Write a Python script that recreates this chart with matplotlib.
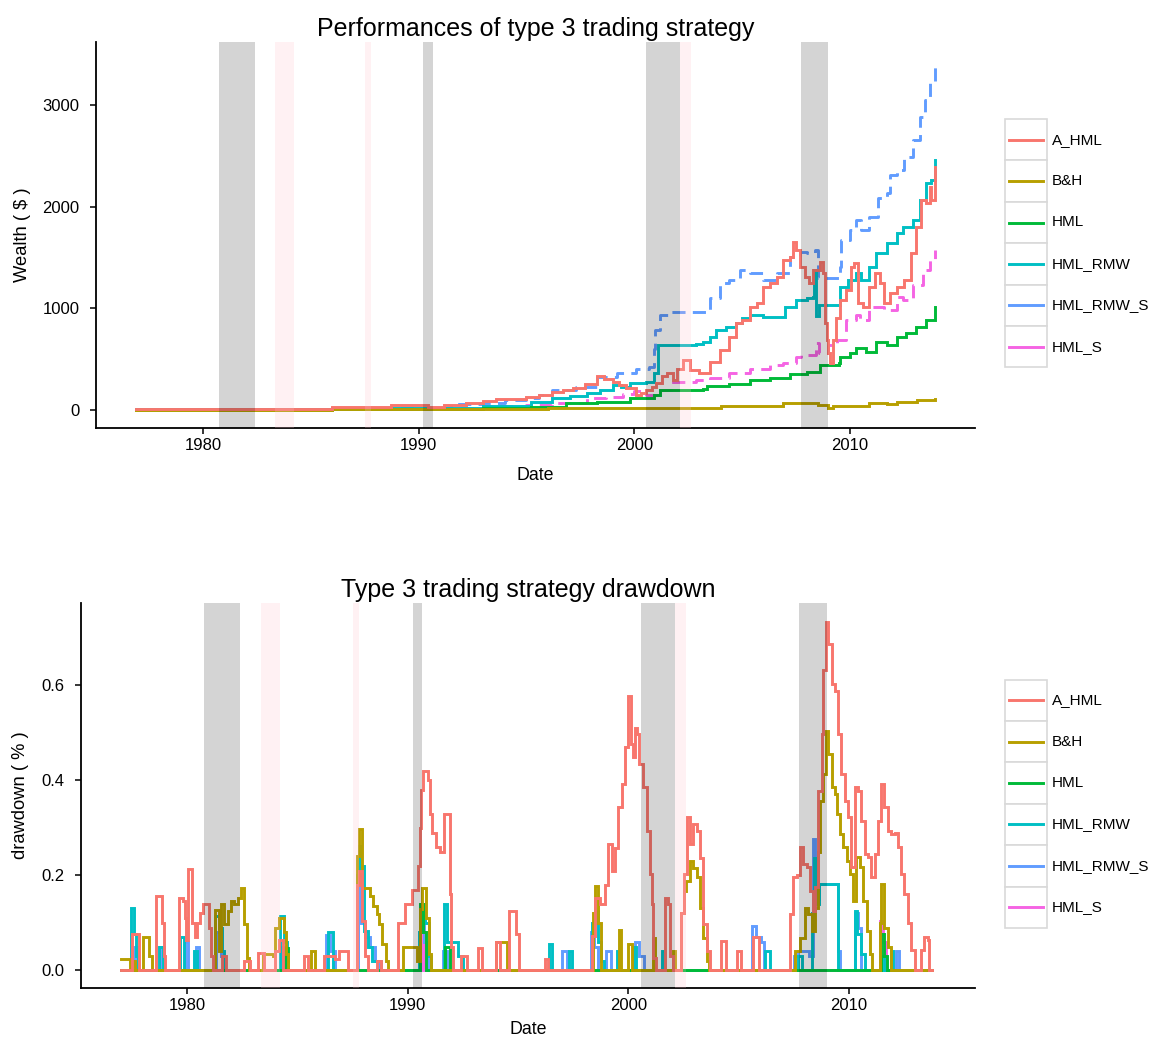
import matplotlib
matplotlib.use("Agg")
import matplotlib.pyplot as plt
from matplotlib.patches import Rectangle
from matplotlib.lines import Line2D

plt.rcParams['font.family'] = ['Liberation Sans', 'DejaVu Sans']

# ---------------------------------------------------------------- data
series_names = ["A_HML", "B&H", "HML", "HML_RMW", "HML_RMW_S", "HML_S"]
series_colors = ["#F8766D", "#B79F00", "#00BA38", "#00BFC4", "#619CFF", "#F564E3"]
series_dashed = [False, False, False, False, True, True]

# wealth ($) as (year, value) pairs
wealth_a_hml = [
    (1976.9, 8), (1986.0, 28), (1988.7, 48), (1990.45, 30), (1991.2, 45), (1992.2, 66),
    (1993.0, 92), (1993.6, 108), (1994.4, 112), (1995.0, 131), (1995.6, 150), (1996.2, 180),
    (1996.7, 200), (1997.15, 213), (1997.7, 260), (1998.25, 334), (1998.6, 300), (1999.0, 279),
    (1999.3, 250), (1999.6, 216), (2000.1, 147), (2000.3, 170), (2000.55, 197), (2000.8, 230),
    (2001.0, 265), (2001.3, 330), (2001.5, 363), (2001.8, 295), (2002.0, 400), (2002.25, 492),
    (2002.6, 393), (2003.0, 363), (2003.5, 475), (2003.97, 590), (2004.4, 720), (2004.7, 855),
    (2005.0, 885), (2005.35, 1016), (2005.67, 1052), (2005.96, 1213), (2006.3, 1249),
    (2006.6, 1311), (2006.9, 1475), (2007.2, 1508), (2007.37, 1655), (2007.5, 1573),
    (2007.7, 1409), (2007.9, 1311), (2008.1, 1245), (2008.3, 1377), (2008.6, 1458),
    (2008.76, 1344), (2008.83, 855), (2008.92, 688), (2009.0, 560), (2009.07, 459),
    (2009.2, 688), (2009.35, 900), (2009.53, 1082), (2009.84, 1180), (2010.07, 1409),
    (2010.2, 1442), (2010.38, 1049), (2010.6, 1016), (2010.9, 1213), (2011.15, 1344),
    (2011.4, 1245), (2011.6, 1049), (2011.85, 1147), (2012.16, 1213), (2012.5, 1278),
    (2012.85, 1540), (2013.08, 1802), (2013.3, 2065), (2013.55, 2032), (2013.7, 2196),
    (2013.78, 2065), (2013.93, 2393),
]
wealth_bh = [
    (1976.9, 3), (1986.0, 5), (1992.0, 10), (1996.0, 18), (2000.0, 23), (2004.0, 39),
    (2006.9, 66), (2008.0, 66), (2008.5, 50), (2009.0, 23), (2009.2, 43), (2010.9, 66),
    (2011.7, 56), (2012.2, 75), (2013.1, 98), (2013.93, 105),
]
wealth_hml = [
    (1976.9, 3), (1986.0, 7), (1993.0, 15), (1995.2, 33), (1996.85, 66), (1998.25, 82),
    (1999.8, 115), (2000.9, 147), (2001.2, 197), (2003.2, 203), (2003.35, 236),
    (2004.4, 256), (2005.35, 295), (2006.3, 318), (2007.2, 350), (2008.0, 377),
    (2008.6, 442), (2009.5, 459), (2009.55, 524), (2010.0, 557), (2010.3, 606),
    (2010.76, 573), (2011.23, 672), (2011.7, 639), (2012.16, 721), (2012.6, 754),
    (2013.08, 819), (2013.55, 885), (2013.93, 1016),
]
wealth_hml_rmw = [
    (1976.9, 5), (1986.0, 15), (1990.0, 18), (1993.0, 40), (1995.2, 82), (1996.2, 118),
    (1997.0, 140), (1997.8, 167), (1998.4, 197), (1999.0, 246), (1999.4, 230),
    (1999.8, 262), (2000.55, 275), (2000.9, 363), (2001.1, 639), (2002.88, 649),
    (2003.2, 672), (2003.5, 720), (2003.8, 787), (2004.27, 819), (2004.7, 855),
    (2005.0, 900), (2005.35, 934), (2005.97, 918), (2006.6, 918), (2007.0, 1016),
    (2007.5, 1082), (2008.0, 1098), (2008.3, 1110), (2008.35, 1380), (2008.45, 920),
    (2008.55, 1032), (2009.55, 1213), (2009.9, 1278), (2010.3, 1344), (2010.5, 1278),
    (2010.9, 1409), (2011.2, 1540), (2011.7, 1639), (2012.16, 1737), (2012.47, 1803),
    (2012.93, 1868), (2013.24, 2065), (2013.55, 2229), (2013.78, 2262), (2013.93, 2458),
]
wealth_hml_rmw_s = [
    (1976.9, 5), (1986.0, 15), (1990.0, 20), (1991.5, 60), (1993.0, 70), (1994.0, 100),
    (1995.0, 115), (1995.6, 150), (1996.2, 197), (1997.3, 229), (1998.25, 321),
    (1999.2, 367), (2000.1, 400), (2000.7, 426), (2000.9, 600), (2000.95, 787),
    (2001.19, 934), (2001.65, 960), (2002.88, 967), (2003.5, 1098), (2003.97, 1245),
    (2004.4, 1278), (2004.9, 1377), (2005.35, 1344), (2005.97, 1278), (2006.6, 1344),
    (2007.2, 1508), (2007.67, 1557), (2008.0, 1540), (2008.4, 1573), (2008.5, 1295),
    (2009.53, 1409), (2009.6, 1672), (2010.0, 1770), (2010.3, 1868), (2010.5, 1770),
    (2010.9, 1901), (2011.3, 2081), (2011.7, 2130), (2011.85, 2311), (2012.16, 2360),
    (2012.5, 2491), (2012.93, 2655), (2013.24, 2884), (2013.47, 3048), (2013.7, 3212),
    (2013.93, 3424),
]
wealth_hml_s = [
    (1976.9, 3), (1986.0, 10), (1990.0, 15), (1993.0, 35), (1995.0, 50), (1996.2, 66),
    (1997.8, 115), (1998.7, 131), (1999.5, 160), (2000.0, 190), (2000.55, 147),
    (2001.0, 200), (2001.8, 279), (2002.88, 295), (2003.5, 311), (2004.4, 367),
    (2005.35, 400), (2006.3, 442), (2006.9, 465), (2007.5, 524), (2007.75, 541),
    (2008.45, 655), (2008.55, 560), (2009.0, 640), (2009.4, 688), (2009.84, 885),
    (2010.3, 934), (2010.45, 885), (2010.9, 1016), (2011.6, 983), (2012.16, 1114),
    (2012.47, 1082), (2012.93, 1229), (2013.4, 1377), (2013.7, 1475), (2013.93, 1573),
]

# drawdown (fraction) as (year, value) pairs
dd_a_hml = [
    (1977.0, 0), (1977.5, 0.076), (1977.85, 0), (1978.6, 0.157), (1978.85, 0.10),
    (1978.95, 0.03), (1979.0, 0), (1979.65, 0.152), (1979.8, 0.146), (1979.9, 0.111),
    (1979.97, 0.063), (1980.05, 0.213), (1980.25, 0.10), (1980.35, 0.07), (1980.45, 0.10),
    (1980.6, 0.12), (1980.74, 0.139), (1981.0, 0.09), (1981.1, 0.03), (1981.2, 0),
    (1981.6, 0.03), (1981.75, 0), (1982.6, 0.02), (1982.85, 0), (1983.2, 0.037),
    (1983.5, 0), (1984.0, 0.04), (1984.15, 0.065), (1984.35, 0), (1985.3, 0.03),
    (1985.5, 0), (1986.2, 0.03), (1986.7, 0.025), (1986.9, 0.04), (1987.3, 0),
    (1987.72, 0.18), (1987.78, 0.21), (1987.95, 0.105), (1988.07, 0.03), (1988.2, 0),
    (1988.6, 0.02), (1988.8, 0), (1989.55, 0.10), (1989.9, 0.14), (1990.2, 0.17),
    (1990.45, 0.22), (1990.55, 0.30), (1990.62, 0.38), (1990.7, 0.42), (1990.9, 0.40),
    (1991.0, 0.33), (1991.1, 0.29), (1991.3, 0.26), (1991.45, 0.25), (1991.65, 0.33),
    (1991.9, 0.16), (1991.97, 0.05), (1992.05, 0), (1992.4, 0.03), (1992.7, 0),
    (1993.2, 0.047), (1993.35, 0), (1994.0, 0.06), (1994.2, 0), (1994.6, 0.125),
    (1994.9, 0.076), (1995.05, 0), (1996.2, 0.023), (1996.35, 0), (1998.34, 0.072),
    (1998.49, 0.153), (1998.71, 0.14), (1998.94, 0.18), (1999.09, 0.265), (1999.24, 0.21),
    (1999.39, 0.258), (1999.54, 0.343), (1999.69, 0.392), (1999.84, 0.469),
    (1999.99, 0.578), (2000.1, 0.476), (2000.2, 0.448), (2000.3, 0.511), (2000.4, 0.497),
    (2000.5, 0.434), (2000.68, 0.385), (2000.83, 0.294), (2000.98, 0.203),
    (2001.06, 0.139), (2001.13, 0.027), (2001.25, 0), (2001.66, 0.153), (2001.8, 0.14),
    (2001.9, 0.03), (2002.0, 0), (2002.38, 0.12), (2002.5, 0.203), (2002.64, 0.322),
    (2002.8, 0.265), (2002.94, 0.308), (2003.1, 0.294), (2003.24, 0.237), (2003.4, 0.097),
    (2003.55, 0.041), (2003.7, 0), (2004.2, 0.062), (2004.4, 0), (2004.9, 0.04),
    (2005.1, 0), (2005.65, 0.07), (2005.9, 0), (2007.32, 0.118), (2007.47, 0.196),
    (2007.62, 0.20), (2007.77, 0.259), (2007.92, 0.224), (2008.07, 0.217),
    (2008.22, 0.168), (2008.37, 0.125), (2008.45, 0.175), (2008.6, 0.378),
    (2008.75, 0.497), (2008.82, 0.631), (2008.94, 0.732), (2009.05, 0.687),
    (2009.2, 0.602), (2009.35, 0.588), (2009.5, 0.497), (2009.65, 0.413), (2009.8, 0.357),
    (2009.95, 0.322), (2010.1, 0.217), (2010.25, 0.385), (2010.4, 0.378), (2010.55, 0.315),
    (2010.7, 0.245), (2010.86, 0.238), (2011.0, 0.196), (2011.16, 0.245), (2011.3, 0.315),
    (2011.46, 0.392), (2011.6, 0.343), (2011.76, 0.294), (2011.9, 0.287), (2012.06, 0.29),
    (2012.2, 0.259), (2012.36, 0.203), (2012.5, 0.161), (2012.66, 0.099), (2012.8, 0.043),
    (2012.96, 0), (2013.26, 0.043), (2013.4, 0.07), (2013.56, 0.065), (2013.63, 0),
    (2013.75, 0),
]
dd_bh = [
    (1977.0, 0.024), (1977.4, 0), (1977.5, 0.02), (1977.65, 0), (1978.0, 0.07),
    (1978.3, 0.03), (1978.4, 0), (1981.25, 0.127), (1981.45, 0.04), (1981.56, 0.139),
    (1981.7, 0.097), (1981.86, 0.125), (1982.0, 0.146), (1982.15, 0.14), (1982.3, 0.153),
    (1982.47, 0.174), (1982.58, 0.097), (1982.7, 0.027), (1982.8, 0), (1983.45, 0.035),
    (1983.9, 0.03), (1984.0, 0.09), (1984.15, 0.11), (1984.4, 0.08), (1984.5, 0.035),
    (1984.6, 0), (1985.6, 0.04), (1985.8, 0), (1987.72, 0.24), (1987.78, 0.297),
    (1987.95, 0.174), (1988.3, 0.157), (1988.45, 0.135), (1988.6, 0.118), (1988.7, 0.097),
    (1988.85, 0.055), (1989.0, 0.02), (1989.1, 0), (1989.8, 0.05), (1990.4, 0.02),
    (1990.55, 0.13), (1990.63, 0.174), (1990.85, 0.111), (1990.95, 0.034), (1991.05, 0),
    (1994.0, 0.06), (1994.5, 0), (1998.4, 0.12), (1998.5, 0.177), (1998.6, 0.10),
    (1998.75, 0), (1999.55, 0.084), (1999.65, 0), (2000.0, 0.055), (2000.15, 0),
    (2001.1, 0.069), (2001.2, 0), (2002.0, 0.04), (2002.1, 0), (2002.4, 0.12),
    (2002.5, 0.168), (2002.62, 0.189), (2002.8, 0.23), (2002.94, 0.216), (2003.1, 0.196),
    (2003.24, 0.132), (2003.4, 0.069), (2003.55, 0.02), (2003.65, 0), (2007.54, 0.041),
    (2007.77, 0.069), (2008.0, 0.132), (2008.15, 0.118), (2008.3, 0.083), (2008.45, 0.132),
    (2008.6, 0.25), (2008.68, 0.357), (2008.82, 0.413), (2008.97, 0.504), (2009.05, 0.455),
    (2009.2, 0.385), (2009.35, 0.371), (2009.43, 0.329), (2009.58, 0.287),
    (2009.73, 0.259), (2009.88, 0.231), (2010.03, 0.203), (2010.18, 0.147),
    (2010.33, 0.238), (2010.48, 0.217), (2010.63, 0.147), (2010.8, 0.083),
    (2010.93, 0.034), (2011.05, 0), (2011.4, 0.10), (2011.46, 0.182), (2011.6, 0.09),
    (2011.76, 0.05), (2011.9, 0), (2013.75, 0),
]
dd_hml = [
    (1977.0, 0), (1984.45, 0.047), (1984.6, 0), (1990.58, 0.139), (1990.7, 0.08),
    (1990.85, 0), (1991.7, 0.05), (1991.9, 0), (2011.45, 0.076), (2011.6, 0.03),
    (2011.7, 0), (2013.75, 0),
]
dd_hml_rmw = [
    (1977.0, 0), (1977.45, 0.132), (1977.6, 0.076), (1977.7, 0.03), (1977.8, 0),
    (1978.75, 0.05), (1978.9, 0), (1979.7, 0.07), (1979.85, 0), (1980.3, 0.04),
    (1980.45, 0), (1981.25, 0.114), (1981.45, 0.09), (1981.6, 0.04), (1981.7, 0),
    (1984.2, 0.114), (1984.4, 0.06), (1984.55, 0), (1986.4, 0.08), (1986.6, 0),
    (1987.72, 0.20), (1987.78, 0.262), (1987.9, 0.22), (1988.0, 0.082), (1988.2, 0.05),
    (1988.4, 0.02), (1988.8, 0), (1990.5, 0.08), (1990.6, 0.139), (1990.8, 0.10),
    (1990.95, 0.03), (1991.05, 0), (1991.65, 0.139), (1991.8, 0.06), (1992.0, 0.06),
    (1992.3, 0.03), (1992.5, 0), (1996.4, 0.055), (1996.55, 0), (1997.3, 0.04),
    (1997.45, 0), (1998.35, 0.10), (1998.5, 0.125), (1998.6, 0.06), (1998.75, 0.02),
    (1998.9, 0), (1999.5, 0.04), (1999.6, 0), (2000.2, 0.05), (2000.35, 0),
    (2001.5, 0.04), (2001.65, 0), (2006.2, 0.04), (2006.4, 0), (2007.7, 0.03),
    (2007.85, 0), (2008.3, 0.12), (2008.4, 0.237), (2008.5, 0.14), (2008.65, 0.181),
    (2009.43, 0.181), (2009.5, 0), (2010.25, 0.125), (2010.35, 0.076), (2010.55, 0.035),
    (2010.7, 0), (2011.45, 0.03), (2011.6, 0), (2011.9, 0.04), (2012.0, 0), (2013.75, 0),
]
dd_hml_rmw_s = [
    (1977.0, 0), (1977.6, 0.05), (1977.75, 0), (1978.8, 0.05), (1978.95, 0),
    (1979.9, 0.06), (1980.05, 0), (1980.4, 0.05), (1980.55, 0), (1981.3, 0.08),
    (1981.55, 0.03), (1981.65, 0), (1984.3, 0.05), (1984.45, 0), (1986.3, 0.075),
    (1986.5, 0.04), (1986.7, 0), (1987.75, 0.22), (1987.9, 0.10), (1988.05, 0.07),
    (1988.3, 0.05), (1988.5, 0.02), (1988.7, 0), (1990.55, 0.10), (1990.75, 0.06),
    (1990.9, 0), (1991.6, 0.04), (1991.8, 0), (1997.0, 0.04), (1997.2, 0),
    (1998.3, 0.08), (1998.45, 0.05), (1998.6, 0), (1999.0, 0.04), (1999.2, 0),
    (2000.3, 0.06), (2000.5, 0.03), (2000.7, 0), (2001.5, 0.02), (2001.6, 0),
    (2005.6, 0.094), (2005.8, 0.07), (2006.0, 0.06), (2006.15, 0), (2007.5, 0.03),
    (2007.7, 0.04), (2008.2, 0.03), (2008.35, 0.276), (2008.45, 0.15), (2008.65, 0.181),
    (2009.43, 0.181), (2009.5, 0.04), (2009.6, 0), (2010.25, 0.12), (2010.4, 0.09),
    (2010.55, 0), (2012.1, 0.04), (2012.25, 0), (2013.75, 0),
]
dd_hml_s = [
    (1977.0, 0), (1984.45, 0.035), (1984.55, 0), (1990.6, 0.10), (1990.75, 0),
    (2011.4, 0.105), (2011.55, 0.06), (2011.65, 0), (2013.75, 0),
]

# shaded periods (decimal years)
grey_periods = [(1980.75, 1982.42), (1990.22, 1990.66), (2000.55, 2002.13), (2007.72, 2009.0)]
pink_periods = [(1983.35, 1984.22), (1987.5, 1987.78), (2002.13, 2002.62)]

year_ticks = [1980, 1990, 2000, 2010]
wealth_ticks = [0, 1000, 2000, 3000]
dd_ticks = [0.0, 0.2, 0.4, 0.6]

wealth_data = [wealth_a_hml, wealth_bh, wealth_hml, wealth_hml_rmw, wealth_hml_rmw_s, wealth_hml_s]
dd_data = [dd_a_hml, dd_bh, dd_hml, dd_hml_rmw, dd_hml_rmw_s, dd_hml_s]

# ---------------------------------------------------------------- figure
W, H = 1170, 1044
fig = plt.figure(figsize=(W / 100, H / 100), dpi=100)


def px_axes(left, top, right, bottom):
    return fig.add_axes([left / W, 1 - bottom / H, (right - left) / W, (bottom - top) / H])


def draw_panel(ax, data, dash_lines, title, ylabel, yticks, ylabels, xlim, ylim,
               xlabelpad, ylabelpad):
    items = list(zip(series_colors, data, dash_lines))
    # first series is drawn last so it sits on top
    for color, pts, dashed in reversed(items):
        t = [p[0] for p in pts]
        v = [p[1] for p in pts]
        line, = ax.plot(t, v, drawstyle='steps-post', color=color, lw=2.1,
                        solid_joinstyle='miter', zorder=2)
        if dashed:
            line.set_dashes([4.5, 2.5])
    for a, b in grey_periods:
        ax.axvspan(a, b, color='black', alpha=0.17, lw=0, zorder=3)
    for a, b in pink_periods:
        ax.axvspan(a, b, color='#ffc0cb', alpha=0.22, lw=0, zorder=3)
    ax.set_xlim(*xlim)
    ax.set_ylim(*ylim)
    ax.set_xticks(year_ticks)
    ax.set_xticklabels([str(y) for y in year_ticks])
    ax.set_yticks(yticks)
    ax.set_yticklabels(ylabels)
    for s in ('top', 'right'):
        ax.spines[s].set_visible(False)
    for s in ('left', 'bottom'):
        ax.spines[s].set_linewidth(1.3)
        ax.spines[s].set_color('black')
    ax.tick_params(direction='out', length=4, width=1.1, labelsize=12, colors='black')
    ax.tick_params(axis='x', pad=3)
    ax.tick_params(axis='y', pad=8)
    ax.set_title(title, fontsize=18, pad=4)
    ax.set_xlabel('Date', fontsize=12.8, labelpad=xlabelpad)
    ax.set_ylabel(ylabel, fontsize=13.2, labelpad=ylabelpad)
    ax.set_facecolor('white')


ax1 = px_axes(96, 42, 975, 428)
draw_panel(ax1, wealth_data, series_dashed, 'Performances of type 3 trading strategy',
           'Wealth ( $ )', wealth_ticks, [str(v) for v in wealth_ticks],
           (1975.04, 2015.8), (-177, 3619), 10, 8)

ax2 = px_axes(81, 603, 975, 988)
draw_panel(ax2, dd_data, [False] * 6, 'Type 3 trading strategy drawdown',
           'drawdown ( % )', dd_ticks, ['%.1f' % v for v in dd_ticks],
           (1975.2, 2015.7), (-0.037, 0.773), 6, 9)

# ---------------------------------------------------------------- legends
lax = fig.add_axes([0, 0, 1, 1])
lax.set_xlim(0, W)
lax.set_ylim(H, 0)
lax.axis('off')


def draw_legend(top):
    key_h = 41.4
    for i, (name, color) in enumerate(zip(series_names, series_colors)):
        y0 = top + i * key_h
        lax.add_patch(Rectangle((1005, y0), 42, key_h, facecolor='white',
                                edgecolor='#d9d9d9', lw=1.2))
        lax.add_line(Line2D([1009, 1043], [y0 + key_h / 2] * 2, color=color, lw=2.1))
        lax.text(1052, y0 + key_h / 2, name, fontsize=11, va='center', ha='left',
                 color='black')


draw_legend(119)
draw_legend(679.5)

fig.savefig('out.png', dpi=100, facecolor='white')
